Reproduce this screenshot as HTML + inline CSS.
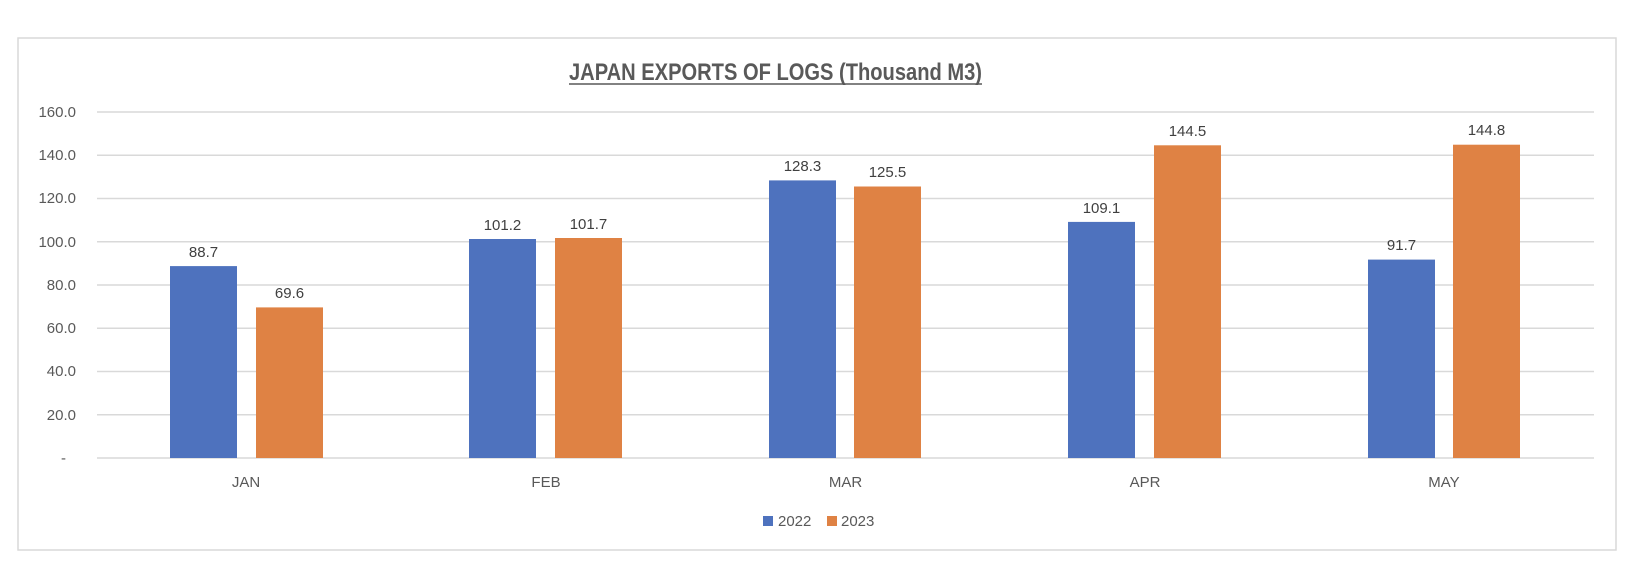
<!DOCTYPE html>
<html><head><meta charset="utf-8"><style>body{margin:0;background:#fff}svg{display:block}</style></head><body>
<svg width="1634" height="564" xmlns="http://www.w3.org/2000/svg" font-family="Liberation Sans, sans-serif">
<rect x="0" y="0" width="1634" height="564" fill="#fff"/>
<rect x="18" y="38" width="1598" height="512" fill="#fff" stroke="#d9d9d9" stroke-width="1.5"/>
<text x="775.5" y="80" text-anchor="middle" font-size="24" font-weight="bold" fill="#595959" textLength="413" lengthAdjust="spacingAndGlyphs">JAPAN EXPORTS OF LOGS (Thousand M3)</text>
<line x1="569" y1="84" x2="982" y2="84" stroke="#595959" stroke-width="1.5"/>
<g stroke="#d9d9d9" stroke-width="1.5">
<line x1="97" x2="1594" y1="112" y2="112"/><line x1="97" x2="1594" y1="155.3" y2="155.3"/><line x1="97" x2="1594" y1="198.5" y2="198.5"/><line x1="97" x2="1594" y1="241.8" y2="241.8"/><line x1="97" x2="1594" y1="285" y2="285"/><line x1="97" x2="1594" y1="328.3" y2="328.3"/><line x1="97" x2="1594" y1="371.5" y2="371.5"/><line x1="97" x2="1594" y1="414.8" y2="414.8"/><line x1="97" x2="1594" y1="458" y2="458"/>
</g>
<g font-size="15" fill="#595959" text-anchor="end">
<text x="76" y="117">160.0</text><text x="76" y="160">140.0</text><text x="76" y="203">120.0</text><text x="76" y="247">100.0</text><text x="76" y="290">80.0</text><text x="76" y="333">60.0</text><text x="76" y="376">40.0</text><text x="76" y="420">20.0</text><text x="66" y="463">-</text>
</g>
<g font-size="15" fill="#404040" text-anchor="middle">
<rect x="170" y="266.1" width="67" height="191.9" fill="#4e72be"/><rect x="256" y="307.4" width="67" height="150.6" fill="#df8244"/>
<text x="203.5" y="257">88.7</text><text x="289.5" y="298">69.6</text>
<rect x="469" y="239" width="67" height="219" fill="#4e72be"/><rect x="555" y="238" width="67" height="220" fill="#df8244"/>
<text x="502.5" y="230">101.2</text><text x="588.5" y="229">101.7</text>
<rect x="769" y="180.4" width="67" height="277.6" fill="#4e72be"/><rect x="854" y="186.5" width="67" height="271.5" fill="#df8244"/>
<text x="802.5" y="171">128.3</text><text x="887.5" y="177">125.5</text>
<rect x="1068" y="221.9" width="67" height="236.1" fill="#4e72be"/><rect x="1154" y="145.3" width="67" height="312.7" fill="#df8244"/>
<text x="1101.5" y="213">109.1</text><text x="1187.5" y="136">144.5</text>
<rect x="1368" y="259.6" width="67" height="198.4" fill="#4e72be"/><rect x="1453" y="144.7" width="67" height="313.3" fill="#df8244"/>
<text x="1401.5" y="250">91.7</text><text x="1486.5" y="135">144.8</text>
</g>
<g font-size="15" fill="#595959" text-anchor="middle">
<text x="246" y="487">JAN</text><text x="546" y="487">FEB</text><text x="845.5" y="487">MAR</text><text x="1145" y="487">APR</text><text x="1444" y="487">MAY</text>
</g>
<rect x="763" y="516" width="10" height="10" fill="#4e72be"/>
<text x="778" y="526" font-size="15" fill="#595959">2022</text>
<rect x="827" y="516" width="10" height="10" fill="#df8244"/>
<text x="841" y="526" font-size="15" fill="#595959">2023</text>
</svg>
</body></html>
